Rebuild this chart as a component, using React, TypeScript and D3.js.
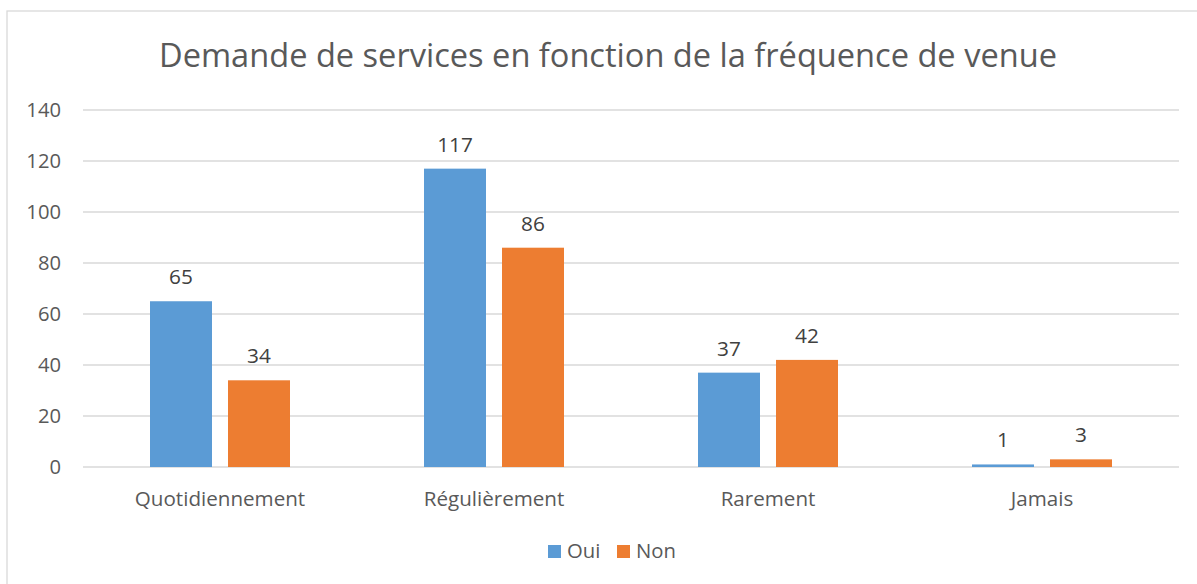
import React, { useEffect } from "react";
import * as d3 from "d3";

const categories = ["Quotidiennement", "Régulièrement", "Rarement", "Jamais"];
const seriesNames = ["Oui", "Non"];
const ouiValues = [65, 117, 37, 1];
const nonValues = [34, 86, 42, 3];
const yTicks = [0, 20, 40, 60, 80, 100, 120, 140];
const title = "Demande de services en fonction de la fréquence de venue";

const colors = ["#5B9BD5", "#ED7D31"];
const textColor = "#595959";
const gridColor = "#D9D9D9";
const font = "'Open Sans', sans-serif";

export default function App() {
  useEffect(() => {
    document.body.style.margin = "0";
  }, []);

  const W = 1197;
  const H = 584;
  const left = 83;
  const right = 1179;
  const y = d3.scaleLinear().domain([0, 140]).range([467, 110]);
  const x = d3.scaleBand<string>().domain(categories).range([left, right]).paddingInner(0).paddingOuter(0);
  const inner = d3.scaleBand<string>().domain(seriesNames).range([-70, 70]).paddingInner(2 - 140 / 78).paddingOuter(0);
  const values = [ouiValues, nonValues];

  return (
    <svg width={W} height={H} style={{ display: "block", background: "#fff" }} fontFamily={font}>
      <rect x={7} y={11} width={W + 20} height={H + 20} fill="#fff" stroke={gridColor} strokeWidth={1.3} />
      <text x={608} y={67} textAnchor="middle" fontSize={32.6} fill={textColor}>
        {title}
      </text>
      {yTicks.map((t) => (
        <g key={t}>
          <line x1={left} x2={right} y1={y(t)} y2={y(t)} stroke={gridColor} strokeWidth={1.3} />
          <text x={61} y={y(t) + 7} textAnchor="end" fontSize={20.2} fill={textColor}>
            {t}
          </text>
        </g>
      ))}
      {categories.map((c, i) => {
        const cx = (x(c) as number) + x.bandwidth() / 2;
        return (
          <g key={c}>
            {seriesNames.map((s, j) => {
              const v = values[j][i];
              const bx = cx + (inner(s) as number);
              return (
                <g key={s}>
                  <rect x={bx} y={y(v)} width={inner.bandwidth()} height={y(0) - y(v)} fill={colors[j]} />
                  <text x={bx + inner.bandwidth() / 2} y={y(v) - 17} textAnchor="middle" fontSize={20.8} fill="#404040">
                    {v}
                  </text>
                </g>
              );
            })}
            <text x={cx} y={506} textAnchor="middle" fontSize={20.6} fill={textColor}>
              {c}
            </text>
          </g>
        );
      })}
      <g>
        <rect x={548} y={545} width={13} height={13} fill={colors[0]} />
        <text x={567} y={558} fontSize={20.3} fill={textColor}>
          {seriesNames[0]}
        </text>
        <rect x={617} y={545} width={13} height={13} fill={colors[1]} />
        <text x={636} y={558} fontSize={20.3} fill={textColor}>
          {seriesNames[1]}
        </text>
      </g>
    </svg>
  );
}
